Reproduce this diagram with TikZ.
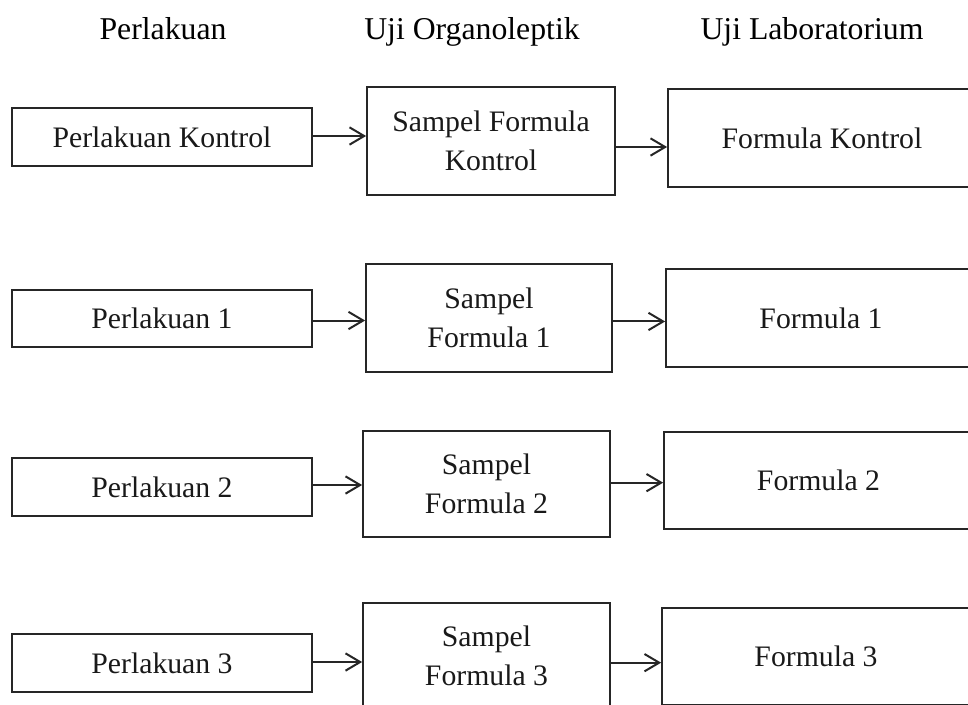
\documentclass[tikz,border=0pt]{standalone}
\usepackage{fontspec}
\setmainfont{Liberation Serif}
\usetikzlibrary{arrows.meta}
\newcommand{\bodyfont}{\fontsize{22.3}{29}\selectfont}
\newcommand{\headfont}{\fontsize{23.8}{28}\selectfont}
\tikzset{
  box/.style={draw=black!85, line width=1.3pt, inner sep=0pt, align=center,
    font=\bodyfont, text=black!90},
  head/.style={font=\headfont, text=black, inner sep=0pt, anchor=base},
  arr/.style={draw=black!85, line width=1.5pt,
    -{Straight Barb[length=11pt,width=13pt,line width=1.5pt]}},
}
\begin{document}
\begin{tikzpicture}[x=0.75pt,y=-0.75pt]
\useasboundingbox (0,0) rectangle (968,704);
\clip (0,0) rectangle (968,704);
% headers
\node[head] (h1) at (163,39) {Perlakuan};
\node[head] (h2) at (472,39) {Uji Organoleptik};
\node[head] (h3) at (812,39) {Uji Laboratorium};
% row 1
\node[box, minimum width=300*0.75pt, minimum height=58*0.75pt] (L1) at (162,137) {Perlakuan Kontrol};
\node[box, minimum width=248*0.75pt, minimum height=108*0.75pt] (M1) at (491,141) {Sampel Formula\\Kontrol};
\node[box, minimum width=308*0.75pt, minimum height=98*0.75pt] (R1) at (822,138) {Formula Kontrol};
% row 2
\node[box, minimum width=300*0.75pt, minimum height=57*0.75pt] (L2) at (162,318.5) {Perlakuan 1};
\node[box, minimum width=246*0.75pt, minimum height=108*0.75pt] (M2) at (489,318) {Sampel\\Formula 1};
\node[box, minimum width=310*0.75pt, minimum height=98*0.75pt] (R2) at (821,318) {Formula 1};
% row 3
\node[box, minimum width=300*0.75pt, minimum height=58*0.75pt] (L3) at (162,487) {Perlakuan 2};
\node[box, minimum width=247*0.75pt, minimum height=106*0.75pt] (M3) at (486.5,484) {Sampel\\Formula 2};
\node[box, minimum width=309*0.75pt, minimum height=97*0.75pt] (R3) at (818.5,480.5) {Formula 2};
% row 4
\node[box, minimum width=300*0.75pt, minimum height=58*0.75pt] (L4) at (162,663) {Perlakuan 3};
\node[box, minimum width=247*0.75pt, minimum height=106*0.75pt] (M4) at (486.5,656) {Sampel\\Formula 3};
\node[box, minimum width=308*0.75pt, minimum height=97*0.75pt] (R4) at (816,656.5) {Formula 3};
% arrow start points
\coordinate (a1) at ([yshift=0.75pt]L1.east);
\coordinate (b1) at ([yshift=-4.5pt]M1.east);
\coordinate (a2) at ([yshift=-1.5pt]L2.east);
\coordinate (b2) at ([yshift=-2.6pt]M2.east);
\coordinate (a3) at ([yshift=1.5pt]L3.east);
\coordinate (b3) at ([yshift=1pt]M3.east);
\coordinate (a4) at ([yshift=0.75pt]L4.east);
\coordinate (b4) at ([yshift=-5pt]M4.east);
\draw[arr] (a1) -- (a1 -| M1.west);
\draw[arr] (b1) -- (b1 -| R1.west);
\draw[arr] (a2) -- (a2 -| M2.west);
\draw[arr] (b2) -- (b2 -| R2.west);
\draw[arr] (a3) -- (a3 -| M3.west);
\draw[arr] (b3) -- (b3 -| R3.west);
\draw[arr] (a4) -- (a4 -| M4.west);
\draw[arr] (b4) -- (b4 -| R4.west);
\end{tikzpicture}
\end{document}
